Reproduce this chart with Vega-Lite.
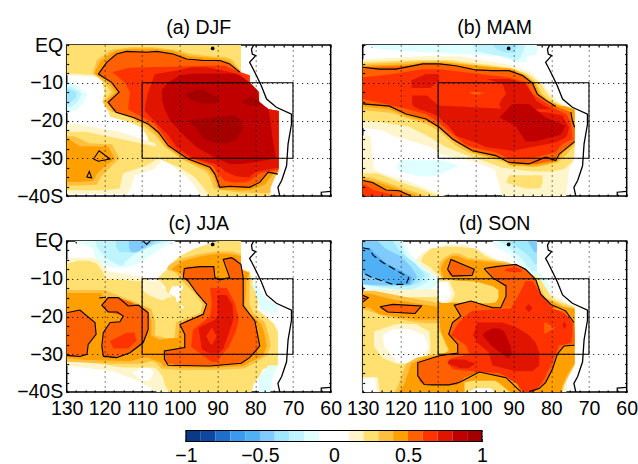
{"$schema":"https://vega.github.io/schema/vega-lite/v6.json","padding":{"left":15.7,"top":16,"right":0,"bottom":0},"background":"white","config":{"view":{"stroke":"black","strokeWidth":1.5},"font":"Liberation Sans","axis":{"domain":false,"tickColor":"black","tickWidth":1.2,"tickSize":-2,"gridColor":"black","gridDash":[1,4],"gridWidth":1,"labelFont":"Liberation Sans","labelFontSize":19.5,"labelColor":"black","title":null,"labelOverlap":false,"labelBound":false,"labelFlush":false},"title":{"font":"Liberation Sans","fontSize":19.5,"fontWeight":"normal","color":"black"}},
"datasets":{
"DJF":[
{"b":1,"v":0.15,"lat":0,"w":130,"e":83.8},{"b":1,"v":0.15,"lat":-8,"w":130,"e":83.8},{"b":1,"v":0.15,"lat":-8.7,"w":120.5,"e":81.5},{"b":1,"v":0.15,"lat":-10,"w":119,"e":81.5},{"b":1,"v":0.15,"lat":-12.5,"w":118.5,"e":79},{"b":1,"v":0.15,"lat":-15,"w":119,"e":79},{"b":1,"v":0.15,"lat":-17,"w":118,"e":76.5},{"b":1,"v":0.15,"lat":-17.5,"w":117.5,"e":73.8},{"b":1,"v":0.15,"lat":-19,"w":116.5,"e":73.8},{"b":1,"v":0.15,"lat":-20,"w":112,"e":73.8},{"b":1,"v":0.15,"lat":-22,"w":108.5,"e":73.8},{"b":1,"v":0.15,"lat":-24.5,"w":107,"e":73.8},{"b":1,"v":0.15,"lat":-30,"w":105,"e":73.8},{"b":1,"v":0.15,"lat":-32,"w":102,"e":73.8},{"b":1,"v":0.15,"lat":-35,"w":98,"e":74.8},{"b":1,"v":0.15,"lat":-37.5,"w":96,"e":76},{"b":1,"v":0.15,"lat":-40,"w":94.5,"e":76},
{"b":2,"v":0.25,"lat":0,"w":130,"e":83.8},{"b":2,"v":0.25,"lat":-7.5,"w":130,"e":83.8},{"b":2,"v":0.25,"lat":-8,"w":122,"e":81.5},{"b":2,"v":0.25,"lat":-10,"w":120.5,"e":81.5},{"b":2,"v":0.25,"lat":-12.5,"w":120,"e":79},{"b":2,"v":0.25,"lat":-15,"w":120.5,"e":79},{"b":2,"v":0.25,"lat":-17,"w":119.5,"e":76.5},{"b":2,"v":0.25,"lat":-17.5,"w":119,"e":73.8},{"b":2,"v":0.25,"lat":-19,"w":118.5,"e":73.8},{"b":2,"v":0.25,"lat":-20.5,"w":113,"e":73.8},{"b":2,"v":0.25,"lat":-22,"w":110,"e":73.8},{"b":2,"v":0.25,"lat":-24.5,"w":108.5,"e":73.8},{"b":2,"v":0.25,"lat":-27,"w":108,"e":73.8},{"b":2,"v":0.25,"lat":-30,"w":106,"e":73.8},{"b":2,"v":0.25,"lat":-32.5,"w":100,"e":73.8},{"b":2,"v":0.25,"lat":-35,"w":96,"e":74.8},{"b":2,"v":0.25,"lat":-37.5,"w":94,"e":76},{"b":2,"v":0.25,"lat":-40,"w":92,"e":76},
{"b":3,"v":0.15,"lat":-21,"w":130,"e":127},{"b":3,"v":0.15,"lat":-23,"w":130,"e":116},{"b":3,"v":0.15,"lat":-26,"w":130,"e":106.5},{"b":3,"v":0.15,"lat":-31,"w":130,"e":105},{"b":3,"v":0.15,"lat":-33,"w":130,"e":107},{"b":3,"v":0.15,"lat":-34.5,"w":130,"e":112},{"b":3,"v":0.15,"lat":-38,"w":130,"e":113},{"b":3,"v":0.15,"lat":-39.5,"w":130,"e":114},
{"b":4,"v":0.25,"lat":-23,"w":130,"e":125},{"b":4,"v":0.25,"lat":-25,"w":130,"e":115},{"b":4,"v":0.25,"lat":-27,"w":130,"e":106},{"b":4,"v":0.25,"lat":-30,"w":130,"e":105.5},{"b":4,"v":0.25,"lat":-32,"w":130,"e":109},{"b":4,"v":0.25,"lat":-34,"w":130,"e":115},{"b":4,"v":0.25,"lat":-38,"w":130,"e":116},{"b":4,"v":0.25,"lat":-38.5,"w":130,"e":120},
{"b":5,"v":0.35,"lat":-24.2,"w":130,"e":128},{"b":5,"v":0.35,"lat":-26,"w":130,"e":124},{"b":5,"v":0.35,"lat":-26.3,"w":130,"e":118},{"b":5,"v":0.35,"lat":-30,"w":130,"e":116},{"b":5,"v":0.35,"lat":-32.5,"w":130,"e":118.5},{"b":5,"v":0.35,"lat":-35,"w":130,"e":121},{"b":5,"v":0.35,"lat":-37,"w":130,"e":122},{"b":5,"v":0.35,"lat":-37.3,"w":130,"e":128},
{"b":6,"v":0.45,"lat":-24.9,"w":130,"e":129.5},{"b":6,"v":0.45,"lat":-26.8,"w":130,"e":126.5},{"b":6,"v":0.45,"lat":-26.9,"w":130,"e":119},{"b":6,"v":0.45,"lat":-30.2,"w":130,"e":117.2},{"b":6,"v":0.45,"lat":-32,"w":130,"e":119.8},{"b":6,"v":0.45,"lat":-34.2,"w":130,"e":122},{"b":6,"v":0.45,"lat":-36,"w":130,"e":123},{"b":6,"v":0.45,"lat":-36.3,"w":130,"e":127},
{"b":7,"v":-0.15,"lat":-10,"w":130,"e":129},{"b":7,"v":-0.15,"lat":-11,"w":130,"e":127},{"b":7,"v":-0.15,"lat":-13,"w":130,"e":124.5},{"b":7,"v":-0.15,"lat":-15,"w":130,"e":125.5},{"b":7,"v":-0.15,"lat":-17,"w":130,"e":127},{"b":7,"v":-0.15,"lat":-18,"w":130,"e":129.5},
{"b":8,"v":-0.25,"lat":-11,"w":130,"e":129},{"b":8,"v":-0.25,"lat":-12,"w":130,"e":127},{"b":8,"v":-0.25,"lat":-13,"w":130,"e":126},{"b":8,"v":-0.25,"lat":-15,"w":130,"e":127},{"b":8,"v":-0.25,"lat":-16.5,"w":130,"e":129},
{"b":9,"v":-0.35,"lat":-11.5,"w":130,"e":129.5},{"b":9,"v":-0.35,"lat":-12.5,"w":130,"e":127.5},{"b":9,"v":-0.35,"lat":-14,"w":130,"e":127.5},{"b":9,"v":-0.35,"lat":-15.5,"w":130,"e":129.5},
{"b":10,"v":0.35,"lat":-0.6,"w":113,"e":107},{"b":10,"v":0.35,"lat":-1.2,"w":118,"e":102},{"b":10,"v":0.35,"lat":-2.4,"w":120,"e":97},{"b":10,"v":0.35,"lat":-3,"w":120.5,"e":92},{"b":10,"v":0.35,"lat":-3.2,"w":121,"e":88},{"b":10,"v":0.35,"lat":-4,"w":122,"e":86},{"b":10,"v":0.35,"lat":-7,"w":123,"e":83.8},{"b":10,"v":0.35,"lat":-7.7,"w":123,"e":83.8},{"b":10,"v":0.35,"lat":-8,"w":122.5,"e":81.5},{"b":10,"v":0.35,"lat":-9.9,"w":120,"e":81.5},{"b":10,"v":0.35,"lat":-12.5,"w":118,"e":79},{"b":10,"v":0.35,"lat":-15,"w":120.5,"e":79},{"b":10,"v":0.35,"lat":-17,"w":119,"e":76.5},{"b":10,"v":0.35,"lat":-17.5,"w":118.5,"e":73.8},{"b":10,"v":0.35,"lat":-19,"w":114,"e":73.8},{"b":10,"v":0.35,"lat":-21,"w":110,"e":73.8},{"b":10,"v":0.35,"lat":-24,"w":106.5,"e":73.8},{"b":10,"v":0.35,"lat":-27,"w":104,"e":73.8},{"b":10,"v":0.35,"lat":-30.5,"w":99,"e":73.8},{"b":10,"v":0.35,"lat":-33.5,"w":93,"e":73.8},{"b":10,"v":0.35,"lat":-35,"w":92,"e":74.8},{"b":10,"v":0.35,"lat":-38,"w":91,"e":76},{"b":10,"v":0.35,"lat":-39,"w":85,"e":76},{"b":10,"v":0.35,"lat":-39.2,"w":80,"e":77},
{"b":11,"v":0.45,"lat":-1,"w":113,"e":107},{"b":11,"v":0.45,"lat":-1.5,"w":117,"e":102},{"b":11,"v":0.45,"lat":-3,"w":119.5,"e":97.5},{"b":11,"v":0.45,"lat":-3.5,"w":120,"e":90},{"b":11,"v":0.45,"lat":-4.2,"w":121,"e":87},{"b":11,"v":0.45,"lat":-7,"w":122.5,"e":83.8},{"b":11,"v":0.45,"lat":-7.7,"w":122.5,"e":83.8},{"b":11,"v":0.45,"lat":-8,"w":122,"e":81.5},{"b":11,"v":0.45,"lat":-9.9,"w":119,"e":81.5},{"b":11,"v":0.45,"lat":-12.5,"w":117,"e":79},{"b":11,"v":0.45,"lat":-15,"w":119.8,"e":79},{"b":11,"v":0.45,"lat":-17,"w":118,"e":76.5},{"b":11,"v":0.45,"lat":-17.5,"w":118,"e":73.8},{"b":11,"v":0.45,"lat":-19,"w":113,"e":73.8},{"b":11,"v":0.45,"lat":-21,"w":109,"e":73.8},{"b":11,"v":0.45,"lat":-23.5,"w":106,"e":73.8},{"b":11,"v":0.45,"lat":-27,"w":103.5,"e":73.8},{"b":11,"v":0.45,"lat":-30.5,"w":98.3,"e":73.8},{"b":11,"v":0.45,"lat":-33,"w":92.5,"e":73.8},{"b":11,"v":0.45,"lat":-34.5,"w":91.3,"e":75.5},{"b":11,"v":0.45,"lat":-37,"w":90.2,"e":77.5},{"b":11,"v":0.45,"lat":-38.3,"w":89.5,"e":81},{"b":11,"v":0.45,"lat":-38.5,"w":84,"e":83},
{"b":12,"v":0.55,"lat":-1.7,"w":114.5,"e":106.5},{"b":12,"v":0.55,"lat":-2.4,"w":116.8,"e":101.8},{"b":12,"v":0.55,"lat":-3.7,"w":118.3,"e":98.2},{"b":12,"v":0.55,"lat":-4.1,"w":118.8,"e":89.4},{"b":12,"v":0.55,"lat":-5,"w":119.8,"e":86.8},{"b":12,"v":0.55,"lat":-7.2,"w":121.4,"e":84},{"b":12,"v":0.55,"lat":-7.7,"w":121.6,"e":83.8},{"b":12,"v":0.55,"lat":-8,"w":121.2,"e":81.5},{"b":12,"v":0.55,"lat":-9.9,"w":118.1,"e":81.5},{"b":12,"v":0.55,"lat":-12.5,"w":116.1,"e":79},{"b":12,"v":0.55,"lat":-15.2,"w":119,"e":79},{"b":12,"v":0.55,"lat":-17,"w":117.5,"e":76.5},{"b":12,"v":0.55,"lat":-17.5,"w":117.3,"e":73.8},{"b":12,"v":0.55,"lat":-19.2,"w":112.3,"e":73.8},{"b":12,"v":0.55,"lat":-20.9,"w":108.4,"e":73.8},{"b":12,"v":0.55,"lat":-23.1,"w":105.7,"e":73.8},{"b":12,"v":0.55,"lat":-26.7,"w":103,"e":73.8},{"b":12,"v":0.55,"lat":-30.2,"w":97.8,"e":73.8},{"b":12,"v":0.55,"lat":-32.4,"w":92,"e":73.8},{"b":12,"v":0.55,"lat":-33.7,"w":91,"e":74},{"b":12,"v":0.55,"lat":-34.2,"w":90.7,"e":77},{"b":12,"v":0.55,"lat":-36.4,"w":89.8,"e":78.8},{"b":12,"v":0.55,"lat":-37.7,"w":89.4,"e":81.5},{"b":12,"v":0.55,"lat":-37.8,"w":88,"e":83},
{"b":14,"v":0.65,"lat":-5.5,"w":92,"e":88},{"b":14,"v":0.65,"lat":-6,"w":113.5,"e":87},{"b":14,"v":0.65,"lat":-7.2,"w":118,"e":83.8},{"b":14,"v":0.65,"lat":-8,"w":116.8,"e":81.5},{"b":14,"v":0.65,"lat":-10,"w":114.6,"e":81.5},{"b":14,"v":0.65,"lat":-12.5,"w":113.2,"e":79},{"b":14,"v":0.65,"lat":-15,"w":113.5,"e":79},{"b":14,"v":0.65,"lat":-17,"w":113.7,"e":76.5},{"b":14,"v":0.65,"lat":-17.5,"w":113,"e":73.8},{"b":14,"v":0.65,"lat":-19,"w":110.1,"e":73.8},{"b":14,"v":0.65,"lat":-21,"w":106.6,"e":73.8},{"b":14,"v":0.65,"lat":-24,"w":104.4,"e":73.8},{"b":14,"v":0.65,"lat":-27,"w":102.2,"e":73.8},{"b":14,"v":0.65,"lat":-30,"w":97.3,"e":73.8},{"b":14,"v":0.65,"lat":-32,"w":91.2,"e":73.8},{"b":14,"v":0.65,"lat":-33,"w":90.5,"e":73.8},{"b":14,"v":0.65,"lat":-34,"w":90,"e":78.8},{"b":14,"v":0.65,"lat":-36,"w":88,"e":81.5},{"b":14,"v":0.65,"lat":-36.4,"w":86,"e":83},
{"b":15,"v":0.75,"lat":-5.9,"w":97,"e":93},{"b":15,"v":0.75,"lat":-6.6,"w":100,"e":89},{"b":15,"v":0.75,"lat":-7.7,"w":106.6,"e":84.5},{"b":15,"v":0.75,"lat":-10,"w":107.5,"e":81.5},{"b":15,"v":0.75,"lat":-12.5,"w":108.4,"e":79},{"b":15,"v":0.75,"lat":-15,"w":109,"e":79},{"b":15,"v":0.75,"lat":-17,"w":109.3,"e":76.5},{"b":15,"v":0.75,"lat":-17.5,"w":109.3,"e":73.8},{"b":15,"v":0.75,"lat":-21,"w":106,"e":73.8},{"b":15,"v":0.75,"lat":-24,"w":103,"e":73.8},{"b":15,"v":0.75,"lat":-27,"w":100.9,"e":73.8},{"b":15,"v":0.75,"lat":-30,"w":96.5,"e":73.8},{"b":15,"v":0.75,"lat":-31.5,"w":90.7,"e":73.8},{"b":15,"v":0.75,"lat":-32.5,"w":89,"e":73.8},{"b":15,"v":0.75,"lat":-33.5,"w":88,"e":79.7},{"b":15,"v":0.75,"lat":-34.8,"w":85,"e":81.3},{"b":15,"v":0.75,"lat":-35,"w":83,"e":81.5},
{"b":16,"v":0.85,"lat":-7.6,"w":96.5,"e":85.9},{"b":16,"v":0.85,"lat":-8,"w":100,"e":84},{"b":16,"v":0.85,"lat":-10,"w":103.1,"e":81.5},{"b":16,"v":0.85,"lat":-12,"w":104.8,"e":79.5},{"b":16,"v":0.85,"lat":-15,"w":104.6,"e":79},{"b":16,"v":0.85,"lat":-17,"w":104,"e":76.5},{"b":16,"v":0.85,"lat":-20,"w":102.6,"e":76},{"b":16,"v":0.85,"lat":-24,"w":98.9,"e":75.5},{"b":16,"v":0.85,"lat":-27,"w":95.6,"e":75},{"b":16,"v":0.85,"lat":-30,"w":90.3,"e":74.5},{"b":16,"v":0.85,"lat":-31,"w":88,"e":80},{"b":16,"v":0.85,"lat":-31.5,"w":86.8,"e":84},
{"b":17,"v":0.95,"lat":-11.8,"w":95,"e":94},{"b":17,"v":0.95,"lat":-13,"w":98.7,"e":91.6},{"b":17,"v":0.95,"lat":-14.3,"w":97.3,"e":89.4},{"b":17,"v":0.95,"lat":-15.5,"w":94.3,"e":90.3},
{"b":18,"v":0.95,"lat":-13.7,"w":81.2,"e":80.8},{"b":18,"v":0.95,"lat":-15,"w":83.7,"e":78.8},{"b":18,"v":0.95,"lat":-16,"w":81.9,"e":78.8},
{"b":19,"v":0.95,"lat":-18.7,"w":86.8,"e":85.4},{"b":19,"v":0.95,"lat":-20,"w":97.8,"e":83.7},{"b":19,"v":0.95,"lat":-22,"w":95.6,"e":83.2},{"b":19,"v":0.95,"lat":-25,"w":93.4,"e":85},{"b":19,"v":0.95,"lat":-26,"w":90.3,"e":87.6}
],
"MAM":[
{"b":1,"v":-0.15,"lat":0,"w":130,"e":83.8},{"b":1,"v":-0.15,"lat":-1.2,"w":125,"e":83.8},{"b":1,"v":-0.15,"lat":-2,"w":112.3,"e":83.8},{"b":1,"v":-0.15,"lat":-2.5,"w":100.9,"e":83.8},{"b":1,"v":-0.15,"lat":-3,"w":93.8,"e":86.3},{"b":1,"v":-0.15,"lat":-4.5,"w":89.4,"e":86.8},
{"b":2,"v":-0.25,"lat":0,"w":100.9,"e":87},{"b":2,"v":-0.25,"lat":-1.5,"w":100,"e":87.2},{"b":2,"v":-0.25,"lat":-2.4,"w":96.5,"e":87.8},{"b":2,"v":-0.25,"lat":-3.3,"w":91.2,"e":88.1},{"b":2,"v":-0.25,"lat":-4,"w":90,"e":89},
{"b":3,"v":-0.35,"lat":0,"w":95.6,"e":89},{"b":3,"v":-0.35,"lat":-1.2,"w":94.3,"e":89.4},{"b":3,"v":-0.35,"lat":-2,"w":92,"e":90},
{"b":4,"v":-0.15,"lat":-30.5,"w":120,"e":109},{"b":4,"v":-0.15,"lat":-32,"w":121,"e":104.4},{"b":4,"v":-0.15,"lat":-33.5,"w":120.3,"e":108},{"b":4,"v":-0.15,"lat":-34.8,"w":115,"e":110.6},
{"b":5,"v":0.15,"lat":-3,"w":114,"e":104},{"b":5,"v":0.15,"lat":-3.8,"w":130,"e":100},{"b":5,"v":0.15,"lat":-5,"w":130,"e":92},{"b":5,"v":0.15,"lat":-7,"w":130,"e":85.8},{"b":5,"v":0.15,"lat":-10,"w":130,"e":82.5},{"b":5,"v":0.15,"lat":-13,"w":130,"e":80},{"b":5,"v":0.15,"lat":-15,"w":130,"e":78},{"b":5,"v":0.15,"lat":-16.5,"w":130,"e":75},{"b":5,"v":0.15,"lat":-17.5,"w":130,"e":73.8},{"b":5,"v":0.15,"lat":-22,"w":130,"e":73.8},{"b":5,"v":0.15,"lat":-22.5,"w":125,"e":73.8},{"b":5,"v":0.15,"lat":-24,"w":122,"e":73.8},{"b":5,"v":0.15,"lat":-27,"w":112,"e":73.8},{"b":5,"v":0.15,"lat":-29,"w":109,"e":74},{"b":5,"v":0.15,"lat":-31,"w":100,"e":74},{"b":5,"v":0.15,"lat":-33,"w":95,"e":75.3},{"b":5,"v":0.15,"lat":-40,"w":93,"e":76},
{"b":6,"v":0.15,"lat":-24,"w":130,"e":128},{"b":6,"v":0.15,"lat":-33,"w":130,"e":127},{"b":6,"v":0.15,"lat":-34,"w":130,"e":125},{"b":6,"v":0.15,"lat":-36,"w":130,"e":118},{"b":6,"v":0.15,"lat":-38,"w":130,"e":113},{"b":6,"v":0.15,"lat":-40,"w":130,"e":108},
{"b":7,"v":0.25,"lat":-34,"w":130,"e":126},{"b":7,"v":0.25,"lat":-36,"w":130,"e":121},{"b":7,"v":0.25,"lat":-38,"w":130,"e":115},{"b":7,"v":0.25,"lat":-40,"w":130,"e":110},
{"b":8,"v":0.35,"lat":-35,"w":130,"e":128},{"b":8,"v":0.35,"lat":-37,"w":130,"e":122},{"b":8,"v":0.35,"lat":-39,"w":130,"e":116},{"b":8,"v":0.35,"lat":-40,"w":130,"e":113},
{"b":9,"v":0.45,"lat":-35.5,"w":130,"e":129},{"b":9,"v":0.45,"lat":-37,"w":130,"e":124},{"b":9,"v":0.45,"lat":-39,"w":130,"e":118},{"b":9,"v":0.45,"lat":-40,"w":130,"e":115},
{"b":10,"v":0.55,"lat":-35.9,"w":130,"e":129.5},{"b":10,"v":0.55,"lat":-36.4,"w":130,"e":127.4},{"b":10,"v":0.55,"lat":-38.4,"w":130,"e":123.8},{"b":10,"v":0.55,"lat":-38.6,"w":130,"e":120.3},{"b":10,"v":0.55,"lat":-40,"w":130,"e":117.2},
{"b":11,"v":0.65,"lat":-37,"w":130,"e":129.5},{"b":11,"v":0.65,"lat":-38.5,"w":130,"e":127},{"b":11,"v":0.65,"lat":-40,"w":130,"e":120.5},
{"b":12,"v":0.25,"lat":-4,"w":116,"e":106},{"b":12,"v":0.25,"lat":-4.5,"w":130,"e":103},{"b":12,"v":0.25,"lat":-5.3,"w":130,"e":96},{"b":12,"v":0.25,"lat":-6,"w":130,"e":91},{"b":12,"v":0.25,"lat":-7.5,"w":130,"e":86.5},{"b":12,"v":0.25,"lat":-10,"w":130,"e":83},{"b":12,"v":0.25,"lat":-13,"w":130,"e":81},{"b":12,"v":0.25,"lat":-15,"w":130,"e":79},{"b":12,"v":0.25,"lat":-16.5,"w":130,"e":76},{"b":12,"v":0.25,"lat":-17.5,"w":130,"e":73.8},{"b":12,"v":0.25,"lat":-20,"w":130,"e":73.8},{"b":12,"v":0.25,"lat":-20.5,"w":125,"e":73.8},{"b":12,"v":0.25,"lat":-21.5,"w":118,"e":73.8},{"b":12,"v":0.25,"lat":-24,"w":113,"e":73.8},{"b":12,"v":0.25,"lat":-27,"w":108,"e":73.8},{"b":12,"v":0.25,"lat":-29,"w":103,"e":73.8},{"b":12,"v":0.25,"lat":-31,"w":97,"e":74.5},{"b":12,"v":0.25,"lat":-32.5,"w":92.9,"e":76.2},{"b":12,"v":0.25,"lat":-33,"w":89.4,"e":77},{"b":12,"v":0.25,"lat":-33.5,"w":85,"e":80},
{"b":13,"v":0.25,"lat":-34.5,"w":91.2,"e":82.3},{"b":13,"v":0.25,"lat":-36.5,"w":92,"e":82.3},{"b":13,"v":0.25,"lat":-38,"w":86.8,"e":83},
{"b":14,"v":0.35,"lat":-4.3,"w":114,"e":108},{"b":14,"v":0.35,"lat":-5,"w":130,"e":102},{"b":14,"v":0.35,"lat":-5.9,"w":130,"e":95},{"b":14,"v":0.35,"lat":-6.3,"w":130,"e":90},{"b":14,"v":0.35,"lat":-8,"w":130,"e":86.5},{"b":14,"v":0.35,"lat":-10,"w":130,"e":84},{"b":14,"v":0.35,"lat":-13,"w":130,"e":82.5},{"b":14,"v":0.35,"lat":-15,"w":130,"e":80},{"b":14,"v":0.35,"lat":-16.3,"w":130,"e":77},{"b":14,"v":0.35,"lat":-17.2,"w":130,"e":73.8},{"b":14,"v":0.35,"lat":-18,"w":122,"e":73.8},{"b":14,"v":0.35,"lat":-19.5,"w":118,"e":73.8},{"b":14,"v":0.35,"lat":-21,"w":113,"e":73.8},{"b":14,"v":0.35,"lat":-23,"w":109.5,"e":73.8},{"b":14,"v":0.35,"lat":-26.5,"w":105.5,"e":73.8},{"b":14,"v":0.35,"lat":-28.5,"w":102,"e":75.5},{"b":14,"v":0.35,"lat":-30,"w":96,"e":77},{"b":14,"v":0.35,"lat":-31,"w":92.5,"e":78},{"b":14,"v":0.35,"lat":-32,"w":91,"e":82},{"b":14,"v":0.35,"lat":-32.3,"w":85,"e":84},
{"b":15,"v":0.45,"lat":-4.6,"w":114,"e":109},{"b":15,"v":0.45,"lat":-5.1,"w":118,"e":104},{"b":15,"v":0.45,"lat":-5.5,"w":130,"e":100},{"b":15,"v":0.45,"lat":-6.2,"w":130,"e":91},{"b":15,"v":0.45,"lat":-8,"w":130,"e":87},{"b":15,"v":0.45,"lat":-10,"w":130,"e":84.5},{"b":15,"v":0.45,"lat":-13,"w":130,"e":83},{"b":15,"v":0.45,"lat":-14.6,"w":130,"e":81},{"b":15,"v":0.45,"lat":-16,"w":130,"e":78},{"b":15,"v":0.45,"lat":-16.3,"w":130,"e":76},{"b":15,"v":0.45,"lat":-17,"w":123,"e":73.8},{"b":15,"v":0.45,"lat":-19,"w":118,"e":73.8},{"b":15,"v":0.45,"lat":-20.3,"w":113,"e":73.8},{"b":15,"v":0.45,"lat":-22.3,"w":109.3,"e":73.8},{"b":15,"v":0.45,"lat":-25.5,"w":105.7,"e":73.8},{"b":15,"v":0.45,"lat":-26,"w":105,"e":73.8},{"b":15,"v":0.45,"lat":-28.6,"w":100.5,"e":77},{"b":15,"v":0.45,"lat":-30,"w":94.5,"e":78},{"b":15,"v":0.45,"lat":-31,"w":91.5,"e":78.5},{"b":15,"v":0.45,"lat":-31.8,"w":91,"e":83},{"b":15,"v":0.45,"lat":-32,"w":86,"e":84.5},
{"b":16,"v":0.55,"lat":-5,"w":114,"e":109.7},{"b":16,"v":0.55,"lat":-5.5,"w":117,"e":105.3},{"b":16,"v":0.55,"lat":-5.9,"w":130,"e":102},{"b":16,"v":0.55,"lat":-6.6,"w":130,"e":100},{"b":16,"v":0.55,"lat":-6.8,"w":130,"e":91.2},{"b":16,"v":0.55,"lat":-8.1,"w":130,"e":87.6},{"b":16,"v":0.55,"lat":-10.1,"w":130,"e":85},{"b":16,"v":0.55,"lat":-13,"w":130,"e":83.7},{"b":16,"v":0.55,"lat":-14.6,"w":130,"e":81.5},{"b":16,"v":0.55,"lat":-15.6,"w":130,"e":80.2},{"b":16,"v":0.55,"lat":-16.2,"w":122.9,"e":78.8},{"b":16,"v":0.55,"lat":-17.8,"w":119.5,"e":74.8},{"b":16,"v":0.55,"lat":-19.6,"w":113.2,"e":74.4},{"b":16,"v":0.55,"lat":-21.8,"w":109.7,"e":73.8},{"b":16,"v":0.55,"lat":-24.9,"w":106.2,"e":73.8},{"b":16,"v":0.55,"lat":-25.6,"w":105.4,"e":73.8},{"b":16,"v":0.55,"lat":-28,"w":100.9,"e":77.2},{"b":16,"v":0.55,"lat":-29.3,"w":94.7,"e":78.5},{"b":16,"v":0.55,"lat":-30.6,"w":91.5,"e":78.8},{"b":16,"v":0.55,"lat":-31.1,"w":91.2,"e":82},{"b":16,"v":0.55,"lat":-31.5,"w":85.9,"e":84},
{"b":17,"v":0.65,"lat":-6.4,"w":114.1,"e":109.7},{"b":17,"v":0.65,"lat":-7.7,"w":122,"e":99},{"b":17,"v":0.65,"lat":-8.6,"w":130,"e":91.2},{"b":17,"v":0.65,"lat":-9.9,"w":130,"e":86.7},{"b":17,"v":0.65,"lat":-13,"w":130,"e":85},{"b":17,"v":0.65,"lat":-14.3,"w":130,"e":83},{"b":17,"v":0.65,"lat":-15.6,"w":123.8,"e":81},{"b":17,"v":0.65,"lat":-16.9,"w":118.5,"e":79},{"b":17,"v":0.65,"lat":-17.8,"w":115,"e":77},{"b":17,"v":0.65,"lat":-18.3,"w":113.2,"e":76},{"b":17,"v":0.65,"lat":-20.5,"w":109.7,"e":74.9},{"b":17,"v":0.65,"lat":-23.6,"w":106.2,"e":74.5},{"b":17,"v":0.65,"lat":-24.9,"w":104.5,"e":74.4},{"b":17,"v":0.65,"lat":-26.2,"w":103,"e":77},{"b":17,"v":0.65,"lat":-27.1,"w":100.9,"e":77.8},{"b":17,"v":0.65,"lat":-28.4,"w":94.7,"e":78.8},{"b":17,"v":0.65,"lat":-30.2,"w":91.2,"e":85.9},
{"b":18,"v":0.75,"lat":-7.7,"w":113.2,"e":110.1},{"b":18,"v":0.75,"lat":-9.4,"w":117.2,"e":109.7},{"b":18,"v":0.75,"lat":-11.4,"w":117,"e":112},
{"b":19,"v":0.75,"lat":-9,"w":97.3,"e":91.2},{"b":19,"v":0.75,"lat":-10.3,"w":92.9,"e":86.8},{"b":19,"v":0.75,"lat":-13,"w":92,"e":85},{"b":19,"v":0.75,"lat":-14.7,"w":93.4,"e":84},{"b":19,"v":0.75,"lat":-16,"w":93.8,"e":82},{"b":19,"v":0.75,"lat":-17,"w":93,"e":80},
{"b":20,"v":0.75,"lat":-13.4,"w":116.8,"e":113},{"b":20,"v":0.75,"lat":-14,"w":117,"e":112.3},{"b":20,"v":0.75,"lat":-16,"w":116.8,"e":109.9},{"b":20,"v":0.75,"lat":-16.5,"w":116,"e":100.9},{"b":20,"v":0.75,"lat":-17,"w":115,"e":90},{"b":20,"v":0.75,"lat":-18,"w":112,"e":80},{"b":20,"v":0.75,"lat":-18.7,"w":110.5,"e":77},{"b":20,"v":0.75,"lat":-19.2,"w":109.7,"e":76.8},{"b":20,"v":0.75,"lat":-21.8,"w":107,"e":75.3},{"b":20,"v":0.75,"lat":-24,"w":105.3,"e":75.8},{"b":20,"v":0.75,"lat":-24.5,"w":104,"e":76.2},{"b":20,"v":0.75,"lat":-25.8,"w":100,"e":78.8},{"b":20,"v":0.75,"lat":-27,"w":97.3,"e":85},{"b":20,"v":0.75,"lat":-28,"w":90.5,"e":90},
{"b":21,"v":0.85,"lat":-15.6,"w":90.3,"e":85.9},{"b":21,"v":0.85,"lat":-19.2,"w":93.8,"e":81.5},{"b":21,"v":0.85,"lat":-21.4,"w":89.4,"e":76.2},{"b":21,"v":0.85,"lat":-23.8,"w":88,"e":77.5},{"b":21,"v":0.85,"lat":-25.5,"w":86.8,"e":84},
{"b":22,"v":0.55,"lat":-12.4,"w":101,"e":100},{"b":22,"v":0.55,"lat":-12.7,"w":101.7,"e":97.8},{"b":22,"v":0.55,"lat":-13.1,"w":100.5,"e":99}
],
"JJA":[
{"b":1,"v":-0.15,"lat":0,"w":128,"e":101},{"b":1,"v":-0.15,"lat":-2,"w":123,"e":105},{"b":1,"v":-0.15,"lat":-4,"w":122.5,"e":108},{"b":1,"v":-0.15,"lat":-6,"w":122,"e":111},{"b":1,"v":-0.15,"lat":-7,"w":118,"e":114},
{"b":2,"v":-0.25,"lat":0,"w":122.5,"e":102},{"b":2,"v":-0.25,"lat":-1.5,"w":122,"e":109},{"b":2,"v":-0.25,"lat":-3.5,"w":120.5,"e":112},{"b":2,"v":-0.25,"lat":-5.5,"w":118,"e":114.5},{"b":2,"v":-0.25,"lat":-6.5,"w":116,"e":115},
{"b":3,"v":-0.35,"lat":0,"w":117,"e":105},{"b":3,"v":-0.35,"lat":-1.5,"w":117,"e":108},{"b":3,"v":-0.35,"lat":-3,"w":116,"e":111},
{"b":4,"v":-0.45,"lat":0,"w":113.5,"e":106.6},{"b":4,"v":-0.45,"lat":-1.5,"w":113.5,"e":109},{"b":4,"v":-0.45,"lat":-3,"w":113,"e":111.5},
{"b":5,"v":0.15,"lat":-4.5,"w":129,"e":123},{"b":5,"v":0.15,"lat":-5,"w":130,"e":121.5},{"b":5,"v":0.15,"lat":-8,"w":130,"e":119},{"b":5,"v":0.15,"lat":-9.5,"w":130,"e":110},{"b":5,"v":0.15,"lat":-13,"w":130,"e":103},{"b":5,"v":0.15,"lat":-31,"w":130,"e":103},{"b":5,"v":0.15,"lat":-33,"w":130,"e":103},{"b":5,"v":0.15,"lat":-34.5,"w":118,"e":103},{"b":5,"v":0.15,"lat":-37,"w":111,"e":103},{"b":5,"v":0.15,"lat":-40,"w":106,"e":103},
{"b":6,"v":0.05,"lat":-33.5,"w":110,"e":108},{"b":6,"v":0.05,"lat":-35,"w":112.5,"e":107},{"b":6,"v":0.05,"lat":-37,"w":110,"e":108},
{"b":7,"v":0.25,"lat":-5.2,"w":127,"e":124},{"b":7,"v":0.25,"lat":-6,"w":130,"e":122},{"b":7,"v":0.25,"lat":-8,"w":130,"e":120.5},{"b":7,"v":0.25,"lat":-10,"w":130,"e":119.5},{"b":7,"v":0.25,"lat":-10.7,"w":130,"e":110},{"b":7,"v":0.25,"lat":-13,"w":130,"e":110},{"b":7,"v":0.25,"lat":-14.5,"w":130,"e":108},{"b":7,"v":0.25,"lat":-16,"w":130,"e":104},{"b":7,"v":0.25,"lat":-18,"w":130,"e":100},{"b":7,"v":0.25,"lat":-30,"w":130,"e":100},{"b":7,"v":0.25,"lat":-31.5,"w":130,"e":105},{"b":7,"v":0.25,"lat":-32.5,"w":122,"e":105},{"b":7,"v":0.25,"lat":-33.5,"w":115,"e":107},
{"b":8,"v":0.25,"lat":0,"w":90,"e":83.8},{"b":8,"v":0.25,"lat":-2,"w":96,"e":83.8},{"b":8,"v":0.25,"lat":-4,"w":100,"e":83.8},{"b":8,"v":0.25,"lat":-6,"w":102.5,"e":83.8},{"b":8,"v":0.25,"lat":-7.5,"w":103,"e":83.8},{"b":8,"v":0.25,"lat":-8,"w":104,"e":81.5},{"b":8,"v":0.25,"lat":-10,"w":106,"e":81},{"b":8,"v":0.25,"lat":-12,"w":104,"e":80},{"b":8,"v":0.25,"lat":-15,"w":103,"e":79},{"b":8,"v":0.25,"lat":-18,"w":110,"e":79.5},{"b":8,"v":0.25,"lat":-22,"w":110,"e":75},{"b":8,"v":0.25,"lat":-24,"w":110,"e":74},{"b":8,"v":0.25,"lat":-31,"w":110,"e":74},{"b":8,"v":0.25,"lat":-33,"w":108,"e":74},{"b":8,"v":0.25,"lat":-34,"w":106,"e":78},{"b":8,"v":0.25,"lat":-36,"w":104.5,"e":79},{"b":8,"v":0.25,"lat":-38,"w":104,"e":80.5},{"b":8,"v":0.25,"lat":-40,"w":103,"e":81},
{"b":9,"v":0.05,"lat":-12,"w":102,"e":99},{"b":9,"v":0.05,"lat":-14,"w":103,"e":100},{"b":9,"v":0.05,"lat":-15,"w":101,"e":100},{"b":9,"v":0.05,"lat":-16,"w":101,"e":100},
{"b":10,"v":0.05,"lat":-17,"w":100,"e":99.5},{"b":10,"v":0.05,"lat":-17.8,"w":99.5,"e":98.7},
{"b":11,"v":0.15,"lat":-10.5,"w":110,"e":105},{"b":11,"v":0.15,"lat":-13,"w":110,"e":104},{"b":11,"v":0.15,"lat":-15,"w":104,"e":102},
{"b":12,"v":-0.15,"lat":-11,"w":81,"e":80},{"b":12,"v":-0.15,"lat":-15,"w":79.5,"e":77.5},{"b":12,"v":-0.15,"lat":-17,"w":79,"e":74.2},{"b":12,"v":-0.15,"lat":-18,"w":79,"e":74},{"b":12,"v":-0.15,"lat":-19,"w":76,"e":74},
{"b":13,"v":-0.15,"lat":-33,"w":76.5,"e":74},{"b":13,"v":-0.15,"lat":-36,"w":79,"e":75.5},{"b":13,"v":-0.15,"lat":-40,"w":79,"e":76},
{"b":14,"v":0.35,"lat":-13,"w":130,"e":120},{"b":14,"v":0.35,"lat":-15,"w":130,"e":115},{"b":14,"v":0.35,"lat":-16,"w":130,"e":112},{"b":14,"v":0.35,"lat":-18,"w":130,"e":107.5},{"b":14,"v":0.35,"lat":-21.5,"w":130,"e":106.5},{"b":14,"v":0.35,"lat":-25,"w":130,"e":106.6},{"b":14,"v":0.35,"lat":-26,"w":130,"e":103},{"b":14,"v":0.35,"lat":-30,"w":130,"e":103},{"b":14,"v":0.35,"lat":-32,"w":130,"e":108},{"b":14,"v":0.35,"lat":-32.5,"w":118,"e":110},
{"b":15,"v":0.35,"lat":-2.8,"w":90.3,"e":86},{"b":15,"v":0.35,"lat":-3.5,"w":95,"e":83.8},{"b":15,"v":0.35,"lat":-4.8,"w":100,"e":83.8},{"b":15,"v":0.35,"lat":-6.5,"w":103,"e":83.8},{"b":15,"v":0.35,"lat":-7.5,"w":103.5,"e":83.8},{"b":15,"v":0.35,"lat":-8.5,"w":101,"e":81.5},{"b":15,"v":0.35,"lat":-10,"w":100,"e":81.5},{"b":15,"v":0.35,"lat":-14,"w":96,"e":81.5},{"b":15,"v":0.35,"lat":-16.8,"w":94,"e":81.5},{"b":15,"v":0.35,"lat":-19,"w":94.5,"e":80.5},{"b":15,"v":0.35,"lat":-21.5,"w":101,"e":77.5},{"b":15,"v":0.35,"lat":-23.4,"w":101.2,"e":76.9},{"b":15,"v":0.35,"lat":-25.6,"w":101.4,"e":76.3},{"b":15,"v":0.35,"lat":-26,"w":110,"e":76.2},{"b":15,"v":0.35,"lat":-27.8,"w":110,"e":76},{"b":15,"v":0.35,"lat":-30.4,"w":110,"e":77},{"b":15,"v":0.35,"lat":-32.5,"w":106,"e":80.5},{"b":15,"v":0.35,"lat":-33.8,"w":105,"e":83},{"b":15,"v":0.35,"lat":-34.2,"w":100,"e":90},
{"b":16,"v":0.45,"lat":-13.8,"w":130,"e":121},{"b":16,"v":0.45,"lat":-15,"w":130,"e":120},{"b":16,"v":0.45,"lat":-16,"w":130,"e":113},{"b":16,"v":0.45,"lat":-17,"w":130,"e":112},{"b":16,"v":0.45,"lat":-18,"w":130,"e":108.5},{"b":16,"v":0.45,"lat":-21.5,"w":130,"e":107.5},{"b":16,"v":0.45,"lat":-25,"w":130,"e":107.6},{"b":16,"v":0.45,"lat":-26.5,"w":130,"e":105},{"b":16,"v":0.45,"lat":-30,"w":130,"e":105},{"b":16,"v":0.45,"lat":-31,"w":130,"e":110},{"b":16,"v":0.45,"lat":-31.5,"w":125,"e":112},{"b":16,"v":0.45,"lat":-31.8,"w":115,"e":113},
{"b":17,"v":0.45,"lat":-3.4,"w":90.3,"e":87},{"b":17,"v":0.45,"lat":-4,"w":94,"e":83.8},{"b":17,"v":0.45,"lat":-5.3,"w":99.1,"e":83.8},{"b":17,"v":0.45,"lat":-6.5,"w":101,"e":83.8},{"b":17,"v":0.45,"lat":-7.5,"w":102.2,"e":83.8},{"b":17,"v":0.45,"lat":-8.5,"w":100,"e":81.5},{"b":17,"v":0.45,"lat":-10,"w":98.9,"e":82.3},{"b":17,"v":0.45,"lat":-14,"w":94.7,"e":82.5},{"b":17,"v":0.45,"lat":-16.8,"w":92.9,"e":82.8},{"b":17,"v":0.45,"lat":-19,"w":93.4,"e":81.5},{"b":17,"v":0.45,"lat":-22,"w":100,"e":78.5},{"b":17,"v":0.45,"lat":-23.4,"w":100.2,"e":77.9},{"b":17,"v":0.45,"lat":-25.6,"w":100.4,"e":77.3},{"b":17,"v":0.45,"lat":-26.5,"w":110,"e":77.2},{"b":17,"v":0.45,"lat":-27.8,"w":110,"e":77},{"b":17,"v":0.45,"lat":-30.4,"w":110,"e":77.9},{"b":17,"v":0.45,"lat":-32.2,"w":105,"e":81.5},{"b":17,"v":0.45,"lat":-33.1,"w":104.5,"e":83.2},{"b":17,"v":0.45,"lat":-33.5,"w":100,"e":90},
{"b":18,"v":0.55,"lat":-18.3,"w":127,"e":126},{"b":18,"v":0.55,"lat":-19,"w":130,"e":125.6},{"b":18,"v":0.55,"lat":-21.6,"w":130,"e":122.5},{"b":18,"v":0.55,"lat":-24.7,"w":130,"e":122.2},{"b":18,"v":0.55,"lat":-27.4,"w":130,"e":124.3},{"b":18,"v":0.55,"lat":-30,"w":130,"e":124.6},{"b":18,"v":0.55,"lat":-30.6,"w":130,"e":126.5},
{"b":19,"v":0.55,"lat":-15,"w":119,"e":116.3},{"b":19,"v":0.55,"lat":-17,"w":120.7,"e":111},{"b":19,"v":0.55,"lat":-18.8,"w":119,"e":108.5},{"b":19,"v":0.55,"lat":-19.9,"w":115,"e":108.4},{"b":19,"v":0.55,"lat":-21.4,"w":115.9,"e":108.4},{"b":19,"v":0.55,"lat":-21.6,"w":118.5,"e":108.4},{"b":19,"v":0.55,"lat":-24.3,"w":120.3,"e":108.4},{"b":19,"v":0.55,"lat":-26.9,"w":120.5,"e":109.7},{"b":19,"v":0.55,"lat":-27.8,"w":120.7,"e":110.5},{"b":19,"v":0.55,"lat":-29.6,"w":120.4,"e":113.2},{"b":19,"v":0.55,"lat":-30.5,"w":120.3,"e":115.5},{"b":19,"v":0.55,"lat":-30.9,"w":118,"e":116.8},
{"b":20,"v":0.55,"lat":-4.4,"w":86.3,"e":85.5},{"b":20,"v":0.55,"lat":-4.9,"w":88.5,"e":85},{"b":20,"v":0.55,"lat":-6.2,"w":87.7,"e":83.8},{"b":20,"v":0.55,"lat":-9.7,"w":86.8,"e":83.2},{"b":20,"v":0.55,"lat":-10.5,"w":87,"e":83.2},
{"b":21,"v":0.55,"lat":-6.8,"w":98,"e":91},{"b":21,"v":0.55,"lat":-7.3,"w":98.8,"e":90.9},{"b":21,"v":0.55,"lat":-9.7,"w":99.1,"e":90.7},{"b":21,"v":0.55,"lat":-10.5,"w":98,"e":89},
{"b":22,"v":0.55,"lat":-10.3,"w":98,"e":83.2},{"b":22,"v":0.55,"lat":-13.7,"w":95.6,"e":83.2},{"b":22,"v":0.55,"lat":-16.8,"w":92.9,"e":83.2},{"b":22,"v":0.55,"lat":-17.2,"w":93,"e":83.2},{"b":22,"v":0.55,"lat":-19.4,"w":93.8,"e":81.5},{"b":22,"v":0.55,"lat":-21.2,"w":98.5,"e":80.1},{"b":22,"v":0.55,"lat":-22.1,"w":100,"e":79.9},{"b":22,"v":0.55,"lat":-24.7,"w":98.7,"e":79.3},{"b":22,"v":0.55,"lat":-28.2,"w":98.7,"e":78.9},{"b":22,"v":0.55,"lat":-29.1,"w":104.1,"e":79.5},{"b":22,"v":0.55,"lat":-30.9,"w":104.1,"e":81.5},{"b":22,"v":0.55,"lat":-32.4,"w":103.5,"e":83.7},{"b":22,"v":0.55,"lat":-33,"w":100,"e":90},
{"b":23,"v":0.65,"lat":-12.4,"w":92,"e":87.6},{"b":23,"v":0.65,"lat":-16.5,"w":91.5,"e":85.4},{"b":23,"v":0.65,"lat":-20,"w":92,"e":84.5},{"b":23,"v":0.65,"lat":-21.5,"w":94,"e":84.5},{"b":23,"v":0.65,"lat":-23.5,"w":96.5,"e":85},{"b":23,"v":0.65,"lat":-28,"w":97,"e":87},{"b":23,"v":0.65,"lat":-31,"w":93,"e":89.5},{"b":23,"v":0.65,"lat":-32,"w":91.5,"e":90},
{"b":24,"v":0.75,"lat":-14.3,"w":90,"e":87.6},{"b":24,"v":0.75,"lat":-17,"w":90,"e":86},{"b":24,"v":0.75,"lat":-20,"w":90,"e":85.8},{"b":24,"v":0.75,"lat":-21,"w":91,"e":85.9},{"b":24,"v":0.75,"lat":-23,"w":95,"e":86.5},{"b":24,"v":0.75,"lat":-28.6,"w":94.2,"e":88.5},{"b":24,"v":0.75,"lat":-29.6,"w":92.5,"e":89.8},
{"b":25,"v":0.65,"lat":-23,"w":91.6,"e":91.5},{"b":25,"v":0.65,"lat":-25.2,"w":93,"e":90.2},{"b":25,"v":0.65,"lat":-27.4,"w":91.8,"e":91.4},
{"b":26,"v":0.65,"lat":-24.3,"w":114.1,"e":112},{"b":26,"v":0.65,"lat":-26.5,"w":118.5,"e":111.5},{"b":26,"v":0.65,"lat":-28.5,"w":117.6,"e":113.7}
],
"SON":[
{"b":1,"v":-0.15,"lat":0,"w":130,"e":119.4},{"b":1,"v":-0.15,"lat":-4,"w":130,"e":117},{"b":1,"v":-0.15,"lat":-7,"w":130,"e":113},{"b":1,"v":-0.15,"lat":-9,"w":130,"e":108},{"b":1,"v":-0.15,"lat":-12,"w":130,"e":110.5},{"b":1,"v":-0.15,"lat":-13.2,"w":128,"e":113},{"b":1,"v":-0.15,"lat":-14,"w":121,"e":115},
{"b":2,"v":-0.25,"lat":0,"w":130,"e":120},{"b":2,"v":-0.25,"lat":-4,"w":130,"e":118.5},{"b":2,"v":-0.25,"lat":-7,"w":130,"e":115},{"b":2,"v":-0.25,"lat":-9,"w":130,"e":112},{"b":2,"v":-0.25,"lat":-11,"w":130,"e":113},{"b":2,"v":-0.25,"lat":-12,"w":128,"e":115},{"b":2,"v":-0.25,"lat":-13,"w":120,"e":117},
{"b":3,"v":-0.35,"lat":0,"w":130,"e":122},{"b":3,"v":-0.35,"lat":-3,"w":130,"e":120},{"b":3,"v":-0.35,"lat":-6,"w":130,"e":116},{"b":3,"v":-0.35,"lat":-9,"w":130,"e":113.5},{"b":3,"v":-0.35,"lat":-11,"w":130,"e":115},{"b":3,"v":-0.35,"lat":-12,"w":125,"e":118},
{"b":4,"v":-0.45,"lat":0,"w":130,"e":126},{"b":4,"v":-0.45,"lat":-2,"w":130,"e":124},{"b":4,"v":-0.45,"lat":-4,"w":130,"e":120},{"b":4,"v":-0.45,"lat":-7,"w":130,"e":117},{"b":4,"v":-0.45,"lat":-9.5,"w":130,"e":115.5},{"b":4,"v":-0.45,"lat":-11.5,"w":130,"e":117},{"b":4,"v":-0.45,"lat":-11.7,"w":127,"e":119},
{"b":5,"v":-0.55,"lat":-1.8,"w":130,"e":128.2},{"b":5,"v":-0.55,"lat":-3.5,"w":130,"e":126.5},{"b":5,"v":-0.55,"lat":-5.8,"w":130,"e":123.8},{"b":5,"v":-0.55,"lat":-8.4,"w":130,"e":119},{"b":5,"v":-0.55,"lat":-9.3,"w":128.5,"e":117.6},{"b":5,"v":-0.55,"lat":-9.7,"w":127.4,"e":116.9},{"b":5,"v":-0.55,"lat":-11.5,"w":122,"e":117.6},
{"b":6,"v":-0.15,"lat":0,"w":95.6,"e":83.8},{"b":6,"v":-0.15,"lat":-2,"w":94,"e":83.8},{"b":6,"v":-0.15,"lat":-3.5,"w":91,"e":83.8},{"b":6,"v":-0.15,"lat":-5,"w":89.4,"e":83.8},{"b":6,"v":-0.15,"lat":-8,"w":86.8,"e":83.8},{"b":6,"v":-0.15,"lat":-10,"w":84,"e":81.5},{"b":6,"v":-0.15,"lat":-12,"w":82.3,"e":80.5},{"b":6,"v":-0.15,"lat":-14,"w":81,"e":80},
{"b":7,"v":-0.25,"lat":0,"w":94,"e":83.8},{"b":7,"v":-0.25,"lat":-2,"w":91,"e":83.8},{"b":7,"v":-0.25,"lat":-4,"w":88.5,"e":83.8},{"b":7,"v":-0.25,"lat":-6,"w":86.8,"e":83.8},{"b":7,"v":-0.25,"lat":-8,"w":85,"e":83.8},
{"b":8,"v":-0.35,"lat":0,"w":92,"e":83.8},{"b":8,"v":-0.35,"lat":-2,"w":88.5,"e":83.8},{"b":8,"v":-0.35,"lat":-4,"w":85.9,"e":83.8},{"b":8,"v":-0.35,"lat":-6,"w":84.5,"e":83.8},
{"b":9,"v":-0.45,"lat":0,"w":86.3,"e":83.8},{"b":9,"v":-0.45,"lat":-1.5,"w":85.4,"e":83.8},{"b":9,"v":-0.45,"lat":-3,"w":84.5,"e":83.8},
{"b":10,"v":0.15,"lat":-1,"w":108,"e":103},{"b":10,"v":0.15,"lat":-3,"w":114,"e":98},{"b":10,"v":0.15,"lat":-5,"w":116,"e":94},{"b":10,"v":0.15,"lat":-7,"w":114,"e":88},{"b":10,"v":0.15,"lat":-9,"w":111,"e":84.5},{"b":10,"v":0.15,"lat":-10,"w":110,"e":83},{"b":10,"v":0.15,"lat":-12.8,"w":110,"e":81},{"b":10,"v":0.15,"lat":-13,"w":127,"e":81},{"b":10,"v":0.15,"lat":-14,"w":130,"e":80},{"b":10,"v":0.15,"lat":-17,"w":130,"e":75},{"b":10,"v":0.15,"lat":-17.7,"w":130,"e":73.8},{"b":10,"v":0.15,"lat":-33,"w":130,"e":73.8},{"b":10,"v":0.15,"lat":-35,"w":130,"e":75},{"b":10,"v":0.15,"lat":-37,"w":130,"e":76},{"b":10,"v":0.15,"lat":-40,"w":130,"e":76},
{"b":11,"v":0.25,"lat":-1.5,"w":108,"e":105},{"b":11,"v":0.25,"lat":-2,"w":112,"e":100},{"b":11,"v":0.25,"lat":-4,"w":114,"e":97.5},{"b":11,"v":0.25,"lat":-5.5,"w":114.5,"e":94},{"b":11,"v":0.25,"lat":-7,"w":112,"e":88},{"b":11,"v":0.25,"lat":-9,"w":110,"e":85},{"b":11,"v":0.25,"lat":-10,"w":108,"e":83},{"b":11,"v":0.25,"lat":-14,"w":105,"e":80.5},{"b":11,"v":0.25,"lat":-14.8,"w":105,"e":80.2},{"b":11,"v":0.25,"lat":-15,"w":130,"e":80},{"b":11,"v":0.25,"lat":-16,"w":130,"e":78},{"b":11,"v":0.25,"lat":-17.4,"w":130,"e":73.8},{"b":11,"v":0.25,"lat":-33,"w":130,"e":73.8},{"b":11,"v":0.25,"lat":-35,"w":130,"e":74.8},{"b":11,"v":0.25,"lat":-37,"w":130,"e":76.5},{"b":11,"v":0.25,"lat":-40,"w":130,"e":77},
{"b":12,"v":0.15,"lat":-22,"w":121,"e":116},{"b":12,"v":0.15,"lat":-24,"w":127,"e":112.3},{"b":12,"v":0.15,"lat":-28,"w":127,"e":112},{"b":12,"v":0.15,"lat":-31,"w":124.7,"e":112.3},{"b":12,"v":0.15,"lat":-32.5,"w":121,"e":117.6},
{"b":13,"v":0.05,"lat":-23.4,"w":122,"e":117.6},{"b":13,"v":0.05,"lat":-25,"w":124.7,"e":113.7},{"b":13,"v":0.05,"lat":-28,"w":124.3,"e":112.5},{"b":13,"v":0.05,"lat":-31,"w":121.6,"e":114},{"b":13,"v":0.05,"lat":-32.3,"w":120.7,"e":119},
{"b":14,"v":0.15,"lat":-36,"w":130,"e":126},{"b":14,"v":0.15,"lat":-40,"w":130,"e":125.5},
{"b":15,"v":0.05,"lat":-36.4,"w":130,"e":126.8},{"b":15,"v":0.05,"lat":-40,"w":130,"e":126.3},
{"b":16,"v":0.35,"lat":-13.2,"w":130,"e":127},{"b":16,"v":0.35,"lat":-15,"w":130,"e":118},{"b":16,"v":0.35,"lat":-16,"w":130,"e":112},{"b":16,"v":0.35,"lat":-16.5,"w":130,"e":110},{"b":16,"v":0.35,"lat":-18,"w":130,"e":110},{"b":16,"v":0.35,"lat":-20,"w":124,"e":110},{"b":16,"v":0.35,"lat":-21.5,"w":116,"e":110},{"b":16,"v":0.35,"lat":-21.8,"w":113,"e":110},
{"b":17,"v":0.45,"lat":-14,"w":130,"e":128},{"b":17,"v":0.45,"lat":-15.5,"w":130,"e":122},{"b":17,"v":0.45,"lat":-16.8,"w":130,"e":114},{"b":17,"v":0.45,"lat":-17.2,"w":130,"e":111},{"b":17,"v":0.45,"lat":-17.8,"w":128,"e":110},{"b":17,"v":0.45,"lat":-19.4,"w":125.6,"e":110},{"b":17,"v":0.45,"lat":-20.4,"w":118,"e":110},{"b":17,"v":0.45,"lat":-20.8,"w":116,"e":110},
{"b":18,"v":0.35,"lat":-3.3,"w":106.2,"e":104.5},{"b":18,"v":0.35,"lat":-4.5,"w":108.5,"e":102},{"b":18,"v":0.35,"lat":-5.5,"w":109.5,"e":92},{"b":18,"v":0.35,"lat":-7.5,"w":110,"e":87},{"b":18,"v":0.35,"lat":-10,"w":109,"e":84.2},{"b":18,"v":0.35,"lat":-15,"w":110,"e":81.5},{"b":18,"v":0.35,"lat":-17.2,"w":110,"e":76.5},{"b":18,"v":0.35,"lat":-17.8,"w":110,"e":73.8},{"b":18,"v":0.35,"lat":-24,"w":110,"e":73.8},{"b":18,"v":0.35,"lat":-29,"w":108,"e":73.8},{"b":18,"v":0.35,"lat":-29.8,"w":110,"e":73.8},{"b":18,"v":0.35,"lat":-30.8,"w":115.5,"e":73.8},{"b":18,"v":0.35,"lat":-32.5,"w":118.5,"e":73.8},{"b":18,"v":0.35,"lat":-35,"w":119.5,"e":75},{"b":18,"v":0.35,"lat":-38,"w":120.5,"e":76.5},{"b":18,"v":0.35,"lat":-40,"w":121.5,"e":77.2},
{"b":19,"v":0.45,"lat":-4,"w":106.2,"e":104.8},{"b":19,"v":0.45,"lat":-5,"w":108,"e":102.6},{"b":19,"v":0.45,"lat":-6,"w":108.8,"e":92},{"b":19,"v":0.45,"lat":-7.5,"w":109.3,"e":87.5},{"b":19,"v":0.45,"lat":-10,"w":108.5,"e":84.7},{"b":19,"v":0.45,"lat":-15,"w":110,"e":82},{"b":19,"v":0.45,"lat":-17.5,"w":110,"e":77},{"b":19,"v":0.45,"lat":-18,"w":110,"e":73.8},{"b":19,"v":0.45,"lat":-24,"w":109.3,"e":73.8},{"b":19,"v":0.45,"lat":-26,"w":108.4,"e":73.8},{"b":19,"v":0.45,"lat":-29,"w":107,"e":73.8},{"b":19,"v":0.45,"lat":-30,"w":108.8,"e":73.8},{"b":19,"v":0.45,"lat":-31,"w":114,"e":73.8},{"b":19,"v":0.45,"lat":-32.5,"w":117.2,"e":73.8},{"b":19,"v":0.45,"lat":-35,"w":118,"e":75.5},{"b":19,"v":0.45,"lat":-38,"w":119,"e":77},{"b":19,"v":0.45,"lat":-40,"w":120.5,"e":77.5},
{"b":20,"v":0.25,"lat":-10,"w":110,"e":108},{"b":20,"v":0.25,"lat":-10.5,"w":110,"e":105},{"b":20,"v":0.25,"lat":-10.7,"w":110,"e":100},{"b":20,"v":0.25,"lat":-12,"w":110,"e":95.5},{"b":20,"v":0.25,"lat":-13,"w":110,"e":94},{"b":20,"v":0.25,"lat":-15,"w":110,"e":94},{"b":20,"v":0.25,"lat":-16,"w":110,"e":94.5},{"b":20,"v":0.25,"lat":-16.3,"w":107,"e":95},{"b":20,"v":0.25,"lat":-16.5,"w":100,"e":96.5},
{"b":21,"v":0.15,"lat":-10.6,"w":110,"e":107},{"b":21,"v":0.15,"lat":-14,"w":110,"e":105.5},{"b":21,"v":0.15,"lat":-16,"w":110,"e":106.5},{"b":21,"v":0.15,"lat":-16.4,"w":109,"e":107.5},
{"b":22,"v":0.05,"lat":-11,"w":110,"e":107.5},{"b":22,"v":0.05,"lat":-14,"w":110,"e":106.5},{"b":22,"v":0.05,"lat":-15.6,"w":110,"e":107.5},{"b":22,"v":0.05,"lat":-16,"w":109,"e":108},
{"b":23,"v":0.25,"lat":-24,"w":110,"e":109.5},{"b":23,"v":0.25,"lat":-26,"w":110,"e":108.6},{"b":23,"v":0.25,"lat":-29,"w":110,"e":107.3},{"b":23,"v":0.25,"lat":-29.8,"w":110,"e":108.5},
{"b":24,"v":0.55,"lat":-6.2,"w":90,"e":89.4},{"b":24,"v":0.55,"lat":-6.8,"w":94.7,"e":88.4},{"b":24,"v":0.55,"lat":-7.3,"w":97.8,"e":87},{"b":24,"v":0.55,"lat":-7.5,"w":97,"e":86.8},{"b":24,"v":0.55,"lat":-9.7,"w":95.6,"e":84.6},{"b":24,"v":0.55,"lat":-10.2,"w":95,"e":84.1},{"b":24,"v":0.55,"lat":-11.9,"w":92,"e":83.6},{"b":24,"v":0.55,"lat":-14.1,"w":92,"e":82.8},{"b":24,"v":0.55,"lat":-14.6,"w":92,"e":82.3},{"b":24,"v":0.55,"lat":-15.9,"w":92.8,"e":81},{"b":24,"v":0.55,"lat":-17,"w":93,"e":80},{"b":24,"v":0.55,"lat":-17.7,"w":93.4,"e":78.5},
{"b":25,"v":0.55,"lat":-15.9,"w":101.3,"e":101},{"b":25,"v":0.55,"lat":-17,"w":105.7,"e":97.5},{"b":25,"v":0.55,"lat":-17.7,"w":105,"e":93},{"b":25,"v":0.55,"lat":-18.5,"w":105,"e":76.2},{"b":25,"v":0.55,"lat":-19.9,"w":104,"e":75.8},{"b":25,"v":0.55,"lat":-21.6,"w":106.2,"e":74},{"b":25,"v":0.55,"lat":-24.7,"w":107.2,"e":73.8},{"b":25,"v":0.55,"lat":-27.4,"w":104.8,"e":73.8},{"b":25,"v":0.55,"lat":-27.8,"w":104.8,"e":76.6},{"b":25,"v":0.55,"lat":-29.7,"w":104.8,"e":78},{"b":25,"v":0.55,"lat":-30,"w":108,"e":78.4},{"b":25,"v":0.55,"lat":-30.4,"w":109.7,"e":78.7},{"b":25,"v":0.55,"lat":-32.2,"w":115.4,"e":79},{"b":25,"v":0.55,"lat":-34,"w":115.4,"e":79.7},{"b":25,"v":0.55,"lat":-35.7,"w":115.4,"e":80.5},{"b":25,"v":0.55,"lat":-37.5,"w":114.8,"e":81.5},{"b":25,"v":0.55,"lat":-38,"w":113.7,"e":82},{"b":25,"v":0.55,"lat":-38.1,"w":107,"e":82.2},{"b":25,"v":0.55,"lat":-38.2,"w":88.8,"e":82.3},{"b":25,"v":0.55,"lat":-39.1,"w":88.5,"e":83.2},{"b":25,"v":0.55,"lat":-39.9,"w":88.1,"e":85.7},
{"b":26,"v":0.55,"lat":-4.9,"w":106.6,"e":106},{"b":26,"v":0.55,"lat":-7.5,"w":107.5,"e":100.4},{"b":26,"v":0.55,"lat":-9.1,"w":107,"e":101},{"b":26,"v":0.55,"lat":-9.3,"w":106.2,"e":102},
{"b":27,"v":0.55,"lat":-16.8,"w":122,"e":121.8},{"b":27,"v":0.55,"lat":-17.2,"w":124,"e":114.4},{"b":27,"v":0.55,"lat":-17.4,"w":125.4,"e":114.5},{"b":27,"v":0.55,"lat":-18.8,"w":123.4,"e":115.9},{"b":27,"v":0.55,"lat":-19.2,"w":118,"e":116.1},
{"b":28,"v":0.55,"lat":-14.4,"w":130,"e":129.8},{"b":28,"v":0.55,"lat":-15,"w":130,"e":128.5},{"b":28,"v":0.55,"lat":-16.2,"w":130,"e":129.9},
{"b":29,"v":0.65,"lat":-10.6,"w":86.8,"e":85},{"b":29,"v":0.65,"lat":-14,"w":88.5,"e":82.8},{"b":29,"v":0.65,"lat":-17.9,"w":90.7,"e":79.7},{"b":29,"v":0.65,"lat":-18.5,"w":100.9,"e":77.9},{"b":29,"v":0.65,"lat":-20,"w":103,"e":75.3},{"b":29,"v":0.65,"lat":-22,"w":104.8,"e":74.4},{"b":29,"v":0.65,"lat":-25,"w":106.6,"e":74.4},{"b":29,"v":0.65,"lat":-27,"w":103.5,"e":74.8},{"b":29,"v":0.65,"lat":-27.7,"w":102.6,"e":78},{"b":29,"v":0.65,"lat":-30,"w":101.7,"e":78.8},{"b":29,"v":0.65,"lat":-31,"w":106.2,"e":79.3},{"b":29,"v":0.65,"lat":-32,"w":107.5,"e":79.7},{"b":29,"v":0.65,"lat":-34,"w":106.2,"e":80.6},{"b":29,"v":0.65,"lat":-34.5,"w":100.9,"e":81},{"b":29,"v":0.65,"lat":-35,"w":93.8,"e":81.2},{"b":29,"v":0.65,"lat":-36,"w":91.6,"e":81.6},{"b":29,"v":0.65,"lat":-38,"w":89.8,"e":82.8},{"b":29,"v":0.65,"lat":-40,"w":87,"e":84.6},
{"b":30,"v":0.45,"lat":-34.7,"w":99.1,"e":99},{"b":30,"v":0.45,"lat":-36.2,"w":103,"e":92},{"b":30,"v":0.45,"lat":-37.5,"w":104.4,"e":89.5},{"b":30,"v":0.45,"lat":-38,"w":105,"e":88.9},{"b":30,"v":0.45,"lat":-40,"w":105,"e":88},
{"b":31,"v":0.25,"lat":-37,"w":101,"e":95},{"b":31,"v":0.25,"lat":-37.5,"w":103,"e":94},{"b":31,"v":0.25,"lat":-40,"w":103,"e":91},
{"b":32,"v":0.05,"lat":-39,"w":100,"e":96},{"b":32,"v":0.05,"lat":-40,"w":102,"e":95},
{"b":33,"v":0.75,"lat":-21.6,"w":99.6,"e":92.9},{"b":33,"v":0.75,"lat":-23,"w":100,"e":89},{"b":33,"v":0.75,"lat":-25,"w":100.7,"e":85.9},{"b":33,"v":0.75,"lat":-27,"w":99.6,"e":84.1},{"b":33,"v":0.75,"lat":-29.5,"w":96.6,"e":83.2},{"b":33,"v":0.75,"lat":-33,"w":95.6,"e":83.2},{"b":33,"v":0.75,"lat":-34.5,"w":89.4,"e":85},
{"b":34,"v":0.75,"lat":-31.4,"w":107,"e":103},{"b":34,"v":0.75,"lat":-32.5,"w":107.5,"e":100},{"b":34,"v":0.75,"lat":-33.7,"w":104,"e":102},
{"b":35,"v":0.75,"lat":-16.8,"w":86,"e":85.8},{"b":35,"v":0.75,"lat":-17.7,"w":87,"e":85},{"b":35,"v":0.75,"lat":-18.8,"w":86,"e":85.8},
{"b":36,"v":0.55,"lat":-21.6,"w":81.9,"e":81.5},{"b":36,"v":0.55,"lat":-23,"w":81.9,"e":79},{"b":36,"v":0.55,"lat":-24.5,"w":81.9,"e":81.5},
{"b":37,"v":0.75,"lat":-21.5,"w":76.7,"e":76.4},{"b":37,"v":0.75,"lat":-22.3,"w":77,"e":76},{"b":37,"v":0.75,"lat":-23.2,"w":76.7,"e":76.4},
{"b":38,"v":0.85,"lat":-23.2,"w":95.6,"e":93.8},{"b":38,"v":0.85,"lat":-24,"w":97.3,"e":92.5},{"b":38,"v":0.85,"lat":-25,"w":98.2,"e":92},{"b":38,"v":0.85,"lat":-28,"w":95.6,"e":90.7},{"b":38,"v":0.85,"lat":-30,"w":92.9,"e":90.5},{"b":38,"v":0.85,"lat":-31,"w":91.6,"e":91.2},
{"b":39,"v":0.65,"lat":-7.1,"w":91.5,"e":89},{"b":39,"v":0.65,"lat":-7.8,"w":92.5,"e":87.7},{"b":39,"v":0.65,"lat":-8.2,"w":91,"e":88}
],
"cDJF":[
{"p":1,"lon":84.1,"lat":-7.2},{"p":1,"lon":86.8,"lat":-5},{"p":1,"lon":89.4,"lat":-4.1},{"p":1,"lon":93.8,"lat":-4.1},{"p":1,"lon":98.2,"lat":-3.7},{"p":1,"lon":101.8,"lat":-2.4},{"p":1,"lon":106.2,"lat":-1.7},{"p":1,"lon":108.8,"lat":-1.9},{"p":1,"lon":114.1,"lat":-1.7},{"p":1,"lon":116.8,"lat":-2.4},{"p":1,"lon":119.4,"lat":-4.6},{"p":1,"lon":121.6,"lat":-7.7},{"p":1,"lon":118.1,"lat":-9.9},{"p":1,"lon":116.1,"lat":-12.5},{"p":1,"lon":119,"lat":-15.2},{"p":1,"lon":116.9,"lat":-17.8},{"p":1,"lon":112.3,"lat":-19.2},{"p":1,"lon":108.4,"lat":-20.9},{"p":1,"lon":105.7,"lat":-23.1},{"p":1,"lon":103,"lat":-26.7},{"p":1,"lon":97.8,"lat":-30.2},{"p":1,"lon":92,"lat":-32.4},{"p":1,"lon":90.7,"lat":-34.2},{"p":1,"lon":89.4,"lat":-37.7},{"p":1,"lon":86.8,"lat":-37.4},{"p":1,"lon":81.5,"lat":-37.7},{"p":1,"lon":78.8,"lat":-36.4},{"p":1,"lon":76.6,"lat":-33.7},{"p":1,"lon":74,"lat":-34.2},
{"p":2,"lon":122.9,"lat":-30.2},{"p":2,"lon":121.4,"lat":-28},{"p":2,"lon":118.5,"lat":-30.2},{"p":2,"lon":121.6,"lat":-30.8},{"p":2,"lon":122.9,"lat":-30.2},
{"p":3,"lon":124.7,"lat":-35},{"p":3,"lon":124,"lat":-33.5},{"p":3,"lon":123.4,"lat":-35.2},{"p":3,"lon":124.7,"lat":-35}
],
"cMAM":[
{"p":1,"lon":130,"lat":-5.9},{"p":1,"lon":125.6,"lat":-6.4},{"p":1,"lon":121.2,"lat":-6.4},{"p":1,"lon":114.1,"lat":-5},{"p":1,"lon":109.7,"lat":-5},{"p":1,"lon":105.3,"lat":-5.5},{"p":1,"lon":100,"lat":-6.6},{"p":1,"lon":95.6,"lat":-6.8},{"p":1,"lon":91.2,"lat":-6.8},{"p":1,"lon":87.6,"lat":-8.1},{"p":1,"lon":85,"lat":-10.1},{"p":1,"lon":83.7,"lat":-13},{"p":1,"lon":81.5,"lat":-14.6},{"p":1,"lon":78.8,"lat":-16.3},
{"p":2,"lon":74.8,"lat":-17.8},{"p":2,"lon":74.4,"lat":-20},{"p":2,"lon":73.8,"lat":-21.8},
{"p":3,"lon":130,"lat":-15.6},{"p":3,"lon":122.9,"lat":-16.2},{"p":3,"lon":118.5,"lat":-18.3},{"p":3,"lon":113.2,"lat":-19.6},{"p":3,"lon":109.7,"lat":-21.8},{"p":3,"lon":106.2,"lat":-24.9},{"p":3,"lon":100.9,"lat":-28},{"p":3,"lon":94.7,"lat":-29.3},{"p":3,"lon":91.2,"lat":-31.1},{"p":3,"lon":85.9,"lat":-31.5},{"p":3,"lon":81.5,"lat":-29.7},{"p":3,"lon":78.8,"lat":-30.6},{"p":3,"lon":77.9,"lat":-28.9},{"p":3,"lon":73.8,"lat":-25.6},
{"p":4,"lon":130,"lat":-35.9},{"p":4,"lon":127.4,"lat":-36.4},{"p":4,"lon":123.8,"lat":-38.4},{"p":4,"lon":120.3,"lat":-38.6},{"p":4,"lon":117.2,"lat":-40}
],
"cJJA":[
{"p":1,"lon":130,"lat":-19},{"p":1,"lon":126.5,"lat":-18.3},{"p":1,"lon":122.5,"lat":-21.6},{"p":1,"lon":122.2,"lat":-24.7},{"p":1,"lon":124.3,"lat":-27.4},{"p":1,"lon":124.6,"lat":-30},{"p":1,"lon":126.5,"lat":-30.6},{"p":1,"lon":130,"lat":-30.3},
{"p":2,"lon":118.5,"lat":-21.6},{"p":2,"lon":115.9,"lat":-21.4},{"p":2,"lon":115,"lat":-19.9},{"p":2,"lon":116.6,"lat":-18.8},{"p":2,"lon":119,"lat":-18.8},{"p":2,"lon":120.7,"lat":-17},{"p":2,"lon":119,"lat":-15},{"p":2,"lon":116.3,"lat":-15},{"p":2,"lon":113.7,"lat":-17.2},{"p":2,"lon":111,"lat":-17},{"p":2,"lon":108.4,"lat":-19},{"p":2,"lon":108.4,"lat":-23.4},{"p":2,"lon":109.7,"lat":-26.9},{"p":2,"lon":113.2,"lat":-29.6},{"p":2,"lon":116.8,"lat":-30.9},{"p":2,"lon":120.3,"lat":-30.5},{"p":2,"lon":120.7,"lat":-27.8},{"p":2,"lon":120.3,"lat":-24.3},{"p":2,"lon":118.5,"lat":-21.6},
{"p":3,"lon":99.1,"lat":-9.7},{"p":3,"lon":98.8,"lat":-7.3},{"p":3,"lon":94.7,"lat":-6.8},{"p":3,"lon":91,"lat":-6.8},{"p":3,"lon":90.7,"lat":-9.7},{"p":3,"lon":89.4,"lat":-10.3},{"p":3,"lon":86.8,"lat":-9.7},{"p":3,"lon":88.5,"lat":-4.9},{"p":3,"lon":86.3,"lat":-4.4},{"p":3,"lon":83.8,"lat":-6.2},{"p":3,"lon":83.2,"lat":-9.7},{"p":3,"lon":83.2,"lat":-17.2},{"p":3,"lon":80.1,"lat":-21.2},{"p":3,"lon":78.8,"lat":-27.8},{"p":3,"lon":81.5,"lat":-30.9},{"p":3,"lon":83.7,"lat":-32.4},{"p":3,"lon":92,"lat":-33.1},{"p":3,"lon":103.1,"lat":-32.9},{"p":3,"lon":104.1,"lat":-31.3},{"p":3,"lon":104.1,"lat":-29.1},{"p":3,"lon":98.7,"lat":-28.2},{"p":3,"lon":98.7,"lat":-24.7},{"p":3,"lon":100,"lat":-22.1},{"p":3,"lon":93.8,"lat":-19.4},{"p":3,"lon":92.9,"lat":-16.8},{"p":3,"lon":95.6,"lat":-13.7},{"p":3,"lon":97.8,"lat":-10.6},{"p":3,"lon":99.1,"lat":-9.7},
{"p":4,"lon":121.4,"lat":-15.1},{"p":4,"lon":119.6,"lat":-14.9},
{"p":5,"lon":109.7,"lat":0},{"p":5,"lon":108.8,"lat":-0.9},{"p":5,"lon":107.9,"lat":0}
],
"cSON":[
{"p":1,"lon":97.8,"lat":-7.3},{"p":1,"lon":94.7,"lat":-6.8},{"p":1,"lon":89.4,"lat":-6.2},{"p":1,"lon":86.8,"lat":-7.5},{"p":1,"lon":84.1,"lat":-10.2},{"p":1,"lon":82.8,"lat":-14.1},{"p":1,"lon":80.1,"lat":-16.8},{"p":1,"lon":76.2,"lat":-18.5},{"p":1,"lon":74,"lat":-21.6},
{"p":2,"lon":73.8,"lat":-27.6},{"p":2,"lon":76.6,"lat":-27.8},{"p":2,"lon":78.4,"lat":-30},{"p":2,"lon":79.7,"lat":-34},{"p":2,"lon":81.5,"lat":-37.5},{"p":2,"lon":83.2,"lat":-39.1},{"p":2,"lon":85.9,"lat":-39.9},
{"p":3,"lon":88.1,"lat":-39.9},{"p":3,"lon":92,"lat":-36.2},{"p":3,"lon":99.1,"lat":-34.7},{"p":3,"lon":104.4,"lat":-37.5},{"p":3,"lon":107.1,"lat":-38.1},{"p":3,"lon":111.5,"lat":-38.1},{"p":3,"lon":113.7,"lat":-38},{"p":3,"lon":115.4,"lat":-35.7},{"p":3,"lon":115.4,"lat":-32.2},{"p":3,"lon":109.7,"lat":-30.4},{"p":3,"lon":104.8,"lat":-29.7},{"p":3,"lon":104.8,"lat":-27.4},{"p":3,"lon":107.2,"lat":-24.7},{"p":3,"lon":106.2,"lat":-21.6},{"p":3,"lon":104,"lat":-19.9},{"p":3,"lon":105.7,"lat":-17},{"p":3,"lon":101.3,"lat":-15.9},{"p":3,"lon":95.6,"lat":-17.7},{"p":3,"lon":93.4,"lat":-17.7},{"p":3,"lon":92,"lat":-14.6},{"p":3,"lon":92,"lat":-11.9},{"p":3,"lon":95.6,"lat":-9.7},{"p":3,"lon":97.8,"lat":-7.3},
{"p":4,"lon":107.5,"lat":-7.5},{"p":4,"lon":106.6,"lat":-4.9},{"p":4,"lon":100.4,"lat":-7.5},{"p":4,"lon":101,"lat":-9.1},{"p":4,"lon":106.2,"lat":-9.3},{"p":4,"lon":107.5,"lat":-7.5},
{"p":5,"lon":125.4,"lat":-17.4},{"p":5,"lon":122,"lat":-16.8},{"p":5,"lon":114.4,"lat":-17.2},{"p":5,"lon":116.1,"lat":-19.2},{"p":5,"lon":123.4,"lat":-18.8},{"p":5,"lon":125.4,"lat":-17.4},
{"p":6,"lon":130,"lat":-14.4},{"p":6,"lon":128.5,"lat":-15},{"p":6,"lon":130,"lat":-16.2}
],
"nSON":[
{"p":1,"lon":130,"lat":-1.8},{"p":1,"lon":128.2,"lat":-2.2},{"p":1,"lon":127.2,"lat":-3.8},{"p":1,"lon":124.7,"lat":-5.7},{"p":1,"lon":118.5,"lat":-9.3},{"p":1,"lon":117.8,"lat":-9.7},{"p":1,"lon":118.5,"lat":-11.5},{"p":1,"lon":122,"lat":-11.5},{"p":1,"lon":127.4,"lat":-9.7},{"p":1,"lon":130,"lat":-8.4}
],
"coast":[
{"p":1,"lon":80.4,"lat":0},{"p":1,"lon":81,"lat":-1.1},{"p":1,"lon":80.8,"lat":-2.4},{"p":1,"lon":79.9,"lat":-2.8},{"p":1,"lon":81.5,"lat":-4.6},{"p":1,"lon":80.8,"lat":-5.9},{"p":1,"lon":79.7,"lat":-8.1},{"p":1,"lon":78.4,"lat":-10.8},{"p":1,"lon":77,"lat":-14.3},{"p":1,"lon":74.4,"lat":-16.5},{"p":1,"lon":70.4,"lat":-18.3},{"p":1,"lon":70.4,"lat":-21},{"p":1,"lon":71.3,"lat":-26.2},{"p":1,"lon":71.7,"lat":-32},{"p":1,"lon":73,"lat":-35.9},{"p":1,"lon":74,"lat":-37.7},{"p":1,"lon":73.5,"lat":-40},
{"p":2,"lon":62.5,"lat":-40},{"p":2,"lon":62.5,"lat":-39},{"p":2,"lon":60,"lat":-38.8}
],
"island":[{"lon":91.3,"lat":-0.9}],
"box":[{"w":110,"e":70,"n":-10,"s":-30}],
"bar":[{"lo":-1,"hi":-0.9,"v":-0.95},{"lo":-0.9,"hi":-0.8,"v":-0.85},{"lo":-0.8,"hi":-0.7,"v":-0.75},{"lo":-0.7,"hi":-0.6,"v":-0.65},{"lo":-0.6,"hi":-0.5,"v":-0.55},{"lo":-0.5,"hi":-0.4,"v":-0.45},{"lo":-0.4,"hi":-0.3,"v":-0.35},{"lo":-0.3,"hi":-0.2,"v":-0.25},{"lo":-0.2,"hi":-0.1,"v":-0.15},{"lo":-0.1,"hi":0,"v":-0.05},{"lo":0,"hi":0.1,"v":0.05},{"lo":0.1,"hi":0.2,"v":0.15},{"lo":0.2,"hi":0.3,"v":0.25},{"lo":0.3,"hi":0.4,"v":0.35},{"lo":0.4,"hi":0.5,"v":0.45},{"lo":0.5,"hi":0.6,"v":0.55},{"lo":0.6,"hi":0.7,"v":0.65},{"lo":0.7,"hi":0.8,"v":0.75},{"lo":0.8,"hi":0.9,"v":0.85},{"lo":0.9,"hi":1,"v":0.95}],
"barbox":[{"lo":-1,"hi":1}]
},
"vconcat":[
{"bounds":"flush","columns":2,"spacing":{"row":45,"column":32},"concat":[
{"width":264,"height":151,"title":{"text":"(a) DJF","offset":-3},"layer":[
{"data":{"name":"DJF"},"mark":{"type":"area","orient":"horizontal","clip":true},"encoding":{"y":{"field":"lat","type":"quantitative","scale":{"domain":[-40,0],"nice":false,"zero":false},"axis":{"values":[0,-2.5,-5,-7.5,-10,-12.5,-15,-17.5,-20,-22.5,-25,-27.5,-30,-32.5,-35,-37.5,-40],"grid":true,"zindex":1,"labelPadding":6,"labelExpr":"datum.value==0?'EQ':datum.value==-40?'−40S':datum.value%10==0?'−'+abs(datum.value):''","gridOpacity":{"condition":{"test":"datum.value%10==0&&datum.value<0&&datum.value>-40","value":1},"value":0}}},"x":{"field":"w","type":"quantitative","stack":null,"scale":{"domain":[130,60],"nice":false,"zero":false},"axis":{"values":[130,127.5,125,122.5,120,117.5,115,112.5,110,107.5,105,102.5,100,97.5,95,92.5,90,87.5,85,82.5,80,77.5,75,72.5,70,67.5,65,62.5,60],"grid":true,"zindex":1,"labels":false,"gridOpacity":{"condition":{"test":"datum.value%10==0&&datum.value<130&&datum.value>60","value":1},"value":0}}},"x2":{"field":"e"},"color":{"field":"v","type":"quantitative","scale":{"type":"threshold","domain":[-0.9,-0.8,-0.7,-0.6,-0.5,-0.4,-0.3,-0.2,-0.1,0,0.1,0.2,0.3,0.4,0.5,0.6,0.7,0.8,0.9],"range":["#0a3a85","#0d47a1","#1e6fcc","#3a9bee","#50b0f5","#80caff","#a0e8ff","#c0f4ff","#e0ffff","#ffffff","#ffffff","#fff5cc","#ffe070","#ffc040","#ffa000","#ff6000","#ff3200","#e11400","#c00000","#a50000"]},"legend":null},"detail":{"field":"b"}}},
{"data":{"name":"cDJF"},"transform":[{"window":[{"op":"row_number","as":"i"}]}],"mark":{"type":"line","color":"black","strokeWidth":1.1,"clip":true},"encoding":{"x":{"field":"lon","type":"quantitative","axis":null},"y":{"field":"lat","type":"quantitative","axis":null},"detail":{"field":"p"},"order":{"field":"i"}}},
{"data":{"name":"coast"},"transform":[{"window":[{"op":"row_number","as":"i"}]}],"mark":{"type":"line","color":"black","strokeWidth":1.3,"clip":true},"encoding":{"x":{"field":"lon","type":"quantitative","axis":null},"y":{"field":"lat","type":"quantitative","axis":null},"detail":{"field":"p"},"order":{"field":"i"}}},
{"data":{"name":"island"},"mark":{"type":"point","filled":true,"color":"black","size":14,"opacity":1},"encoding":{"x":{"field":"lon","type":"quantitative","axis":null},"y":{"field":"lat","type":"quantitative","axis":null}}},
{"data":{"name":"box"},"mark":{"type":"rect","filled":false,"stroke":"black","strokeWidth":1.1},"encoding":{"x":{"field":"w","type":"quantitative","axis":{"orient":"top","values":[130,127.5,125,122.5,120,117.5,115,112.5,110,107.5,105,102.5,100,97.5,95,92.5,90,87.5,85,82.5,80,77.5,75,72.5,70,67.5,65,62.5,60],"labels":false}},"x2":{"field":"e"},"y":{"field":"n","type":"quantitative","axis":{"orient":"right","values":[0,-2.5,-5,-7.5,-10,-12.5,-15,-17.5,-20,-22.5,-25,-27.5,-30,-32.5,-35,-37.5,-40],"labels":false}},"y2":{"field":"s"}}}
],"resolve":{"axis":{"x":"independent","y":"independent"}}},
{"width":264,"height":151,"title":{"text":"(b) MAM","offset":5.5},"layer":[
{"data":{"name":"MAM"},"mark":{"type":"area","orient":"horizontal","clip":true},"encoding":{"y":{"field":"lat","type":"quantitative","scale":{"domain":[-40,0],"nice":false,"zero":false},"axis":{"values":[0,-2.5,-5,-7.5,-10,-12.5,-15,-17.5,-20,-22.5,-25,-27.5,-30,-32.5,-35,-37.5,-40],"grid":true,"zindex":1,"labels":false,"gridOpacity":{"condition":{"test":"datum.value%10==0&&datum.value<0&&datum.value>-40","value":1},"value":0}}},"x":{"field":"w","type":"quantitative","stack":null,"scale":{"domain":[130,60],"nice":false,"zero":false},"axis":{"values":[130,127.5,125,122.5,120,117.5,115,112.5,110,107.5,105,102.5,100,97.5,95,92.5,90,87.5,85,82.5,80,77.5,75,72.5,70,67.5,65,62.5,60],"grid":true,"zindex":1,"labels":false,"gridOpacity":{"condition":{"test":"datum.value%10==0&&datum.value<130&&datum.value>60","value":1},"value":0}}},"x2":{"field":"e"},"color":{"field":"v","type":"quantitative","scale":{"type":"threshold","domain":[-0.9,-0.8,-0.7,-0.6,-0.5,-0.4,-0.3,-0.2,-0.1,0,0.1,0.2,0.3,0.4,0.5,0.6,0.7,0.8,0.9],"range":["#0a3a85","#0d47a1","#1e6fcc","#3a9bee","#50b0f5","#80caff","#a0e8ff","#c0f4ff","#e0ffff","#ffffff","#ffffff","#fff5cc","#ffe070","#ffc040","#ffa000","#ff6000","#ff3200","#e11400","#c00000","#a50000"]},"legend":null},"detail":{"field":"b"}}},
{"data":{"name":"cMAM"},"transform":[{"window":[{"op":"row_number","as":"i"}]}],"mark":{"type":"line","color":"black","strokeWidth":1.1,"clip":true},"encoding":{"x":{"field":"lon","type":"quantitative","axis":null},"y":{"field":"lat","type":"quantitative","axis":null},"detail":{"field":"p"},"order":{"field":"i"}}},
{"data":{"name":"coast"},"transform":[{"window":[{"op":"row_number","as":"i"}]}],"mark":{"type":"line","color":"black","strokeWidth":1.3,"clip":true},"encoding":{"x":{"field":"lon","type":"quantitative","axis":null},"y":{"field":"lat","type":"quantitative","axis":null},"detail":{"field":"p"},"order":{"field":"i"}}},
{"data":{"name":"island"},"mark":{"type":"point","filled":true,"color":"black","size":14,"opacity":1},"encoding":{"x":{"field":"lon","type":"quantitative","axis":null},"y":{"field":"lat","type":"quantitative","axis":null}}},
{"data":{"name":"box"},"mark":{"type":"rect","filled":false,"stroke":"black","strokeWidth":1.1},"encoding":{"x":{"field":"w","type":"quantitative","axis":{"orient":"top","values":[130,127.5,125,122.5,120,117.5,115,112.5,110,107.5,105,102.5,100,97.5,95,92.5,90,87.5,85,82.5,80,77.5,75,72.5,70,67.5,65,62.5,60],"labels":false}},"x2":{"field":"e"},"y":{"field":"n","type":"quantitative","axis":{"orient":"right","values":[0,-2.5,-5,-7.5,-10,-12.5,-15,-17.5,-20,-22.5,-25,-27.5,-30,-32.5,-35,-37.5,-40],"labels":false}},"y2":{"field":"s"}}}
],"resolve":{"axis":{"x":"independent","y":"independent"}}},
{"width":264,"height":151,"title":{"text":"(c) JJA","offset":-3},"layer":[
{"data":{"name":"JJA"},"mark":{"type":"area","orient":"horizontal","clip":true},"encoding":{"y":{"field":"lat","type":"quantitative","scale":{"domain":[-40,0],"nice":false,"zero":false},"axis":{"values":[0,-2.5,-5,-7.5,-10,-12.5,-15,-17.5,-20,-22.5,-25,-27.5,-30,-32.5,-35,-37.5,-40],"grid":true,"zindex":1,"labelPadding":6,"labelExpr":"datum.value==0?'EQ':datum.value==-40?'−40S':datum.value%10==0?'−'+abs(datum.value):''","gridOpacity":{"condition":{"test":"datum.value%10==0&&datum.value<0&&datum.value>-40","value":1},"value":0}}},"x":{"field":"w","type":"quantitative","stack":null,"scale":{"domain":[130,60],"nice":false,"zero":false},"axis":{"values":[130,127.5,125,122.5,120,117.5,115,112.5,110,107.5,105,102.5,100,97.5,95,92.5,90,87.5,85,82.5,80,77.5,75,72.5,70,67.5,65,62.5,60],"grid":true,"zindex":1,"labelPadding":10,"labelExpr":"datum.value%10==0?datum.value:''","gridOpacity":{"condition":{"test":"datum.value%10==0&&datum.value<130&&datum.value>60","value":1},"value":0}}},"x2":{"field":"e"},"color":{"field":"v","type":"quantitative","scale":{"type":"threshold","domain":[-0.9,-0.8,-0.7,-0.6,-0.5,-0.4,-0.3,-0.2,-0.1,0,0.1,0.2,0.3,0.4,0.5,0.6,0.7,0.8,0.9],"range":["#0a3a85","#0d47a1","#1e6fcc","#3a9bee","#50b0f5","#80caff","#a0e8ff","#c0f4ff","#e0ffff","#ffffff","#ffffff","#fff5cc","#ffe070","#ffc040","#ffa000","#ff6000","#ff3200","#e11400","#c00000","#a50000"]},"legend":null},"detail":{"field":"b"}}},
{"data":{"name":"cJJA"},"transform":[{"window":[{"op":"row_number","as":"i"}]}],"mark":{"type":"line","color":"black","strokeWidth":1.1,"clip":true},"encoding":{"x":{"field":"lon","type":"quantitative","axis":null},"y":{"field":"lat","type":"quantitative","axis":null},"detail":{"field":"p"},"order":{"field":"i"}}},
{"data":{"name":"coast"},"transform":[{"window":[{"op":"row_number","as":"i"}]}],"mark":{"type":"line","color":"black","strokeWidth":1.3,"clip":true},"encoding":{"x":{"field":"lon","type":"quantitative","axis":null},"y":{"field":"lat","type":"quantitative","axis":null},"detail":{"field":"p"},"order":{"field":"i"}}},
{"data":{"name":"island"},"mark":{"type":"point","filled":true,"color":"black","size":14,"opacity":1},"encoding":{"x":{"field":"lon","type":"quantitative","axis":null},"y":{"field":"lat","type":"quantitative","axis":null}}},
{"data":{"name":"box"},"mark":{"type":"rect","filled":false,"stroke":"black","strokeWidth":1.1},"encoding":{"x":{"field":"w","type":"quantitative","axis":{"orient":"top","values":[130,127.5,125,122.5,120,117.5,115,112.5,110,107.5,105,102.5,100,97.5,95,92.5,90,87.5,85,82.5,80,77.5,75,72.5,70,67.5,65,62.5,60],"labels":false}},"x2":{"field":"e"},"y":{"field":"n","type":"quantitative","axis":{"orient":"right","values":[0,-2.5,-5,-7.5,-10,-12.5,-15,-17.5,-20,-22.5,-25,-27.5,-30,-32.5,-35,-37.5,-40],"labels":false}},"y2":{"field":"s"}}}
],"resolve":{"axis":{"x":"independent","y":"independent"}}},
{"width":264,"height":151,"title":{"text":"(d) SON","offset":5.5},"layer":[
{"data":{"name":"SON"},"mark":{"type":"area","orient":"horizontal","clip":true},"encoding":{"y":{"field":"lat","type":"quantitative","scale":{"domain":[-40,0],"nice":false,"zero":false},"axis":{"values":[0,-2.5,-5,-7.5,-10,-12.5,-15,-17.5,-20,-22.5,-25,-27.5,-30,-32.5,-35,-37.5,-40],"grid":true,"zindex":1,"labels":false,"gridOpacity":{"condition":{"test":"datum.value%10==0&&datum.value<0&&datum.value>-40","value":1},"value":0}}},"x":{"field":"w","type":"quantitative","stack":null,"scale":{"domain":[130,60],"nice":false,"zero":false},"axis":{"values":[130,127.5,125,122.5,120,117.5,115,112.5,110,107.5,105,102.5,100,97.5,95,92.5,90,87.5,85,82.5,80,77.5,75,72.5,70,67.5,65,62.5,60],"grid":true,"zindex":1,"labelPadding":10,"labelExpr":"datum.value%10==0?datum.value:''","gridOpacity":{"condition":{"test":"datum.value%10==0&&datum.value<130&&datum.value>60","value":1},"value":0}}},"x2":{"field":"e"},"color":{"field":"v","type":"quantitative","scale":{"type":"threshold","domain":[-0.9,-0.8,-0.7,-0.6,-0.5,-0.4,-0.3,-0.2,-0.1,0,0.1,0.2,0.3,0.4,0.5,0.6,0.7,0.8,0.9],"range":["#0a3a85","#0d47a1","#1e6fcc","#3a9bee","#50b0f5","#80caff","#a0e8ff","#c0f4ff","#e0ffff","#ffffff","#ffffff","#fff5cc","#ffe070","#ffc040","#ffa000","#ff6000","#ff3200","#e11400","#c00000","#a50000"]},"legend":null},"detail":{"field":"b"}}},
{"data":{"name":"cSON"},"transform":[{"window":[{"op":"row_number","as":"i"}]}],"mark":{"type":"line","color":"black","strokeWidth":1.1,"clip":true},"encoding":{"x":{"field":"lon","type":"quantitative","axis":null},"y":{"field":"lat","type":"quantitative","axis":null},"detail":{"field":"p"},"order":{"field":"i"}}},
{"data":{"name":"nSON"},"transform":[{"window":[{"op":"row_number","as":"i"}]}],"mark":{"type":"line","color":"black","strokeWidth":1.1,"strokeDash":[7,4],"clip":true},"encoding":{"x":{"field":"lon","type":"quantitative","axis":null},"y":{"field":"lat","type":"quantitative","axis":null},"detail":{"field":"p"},"order":{"field":"i"}}},
{"data":{"name":"coast"},"transform":[{"window":[{"op":"row_number","as":"i"}]}],"mark":{"type":"line","color":"black","strokeWidth":1.3,"clip":true},"encoding":{"x":{"field":"lon","type":"quantitative","axis":null},"y":{"field":"lat","type":"quantitative","axis":null},"detail":{"field":"p"},"order":{"field":"i"}}},
{"data":{"name":"island"},"mark":{"type":"point","filled":true,"color":"black","size":14,"opacity":1},"encoding":{"x":{"field":"lon","type":"quantitative","axis":null},"y":{"field":"lat","type":"quantitative","axis":null}}},
{"data":{"name":"box"},"mark":{"type":"rect","filled":false,"stroke":"black","strokeWidth":1.1},"encoding":{"x":{"field":"w","type":"quantitative","axis":{"orient":"top","values":[130,127.5,125,122.5,120,117.5,115,112.5,110,107.5,105,102.5,100,97.5,95,92.5,90,87.5,85,82.5,80,77.5,75,72.5,70,67.5,65,62.5,60],"labels":false}},"x2":{"field":"e"},"y":{"field":"n","type":"quantitative","axis":{"orient":"right","values":[0,-2.5,-5,-7.5,-10,-12.5,-15,-17.5,-20,-22.5,-25,-27.5,-30,-32.5,-35,-37.5,-40],"labels":false}},"y2":{"field":"s"}}}
],"resolve":{"axis":{"x":"independent","y":"independent"}}}
]},
{"width":561,"height":11,"view":{"stroke":null},"layer":[
{"data":{"name":"bar"},"mark":{"type":"rect"},"encoding":{"x":{"field":"lo","type":"quantitative","scale":{"domain":[-1.806,1.985],"nice":false,"zero":false},"axis":{"values":[-1,-0.5,0,0.5,1],"tickSize":-3,"labelPadding":8,"labelExpr":"replace(''+datum.value,'-','−')"}},"x2":{"field":"hi"},"color":{"field":"v","type":"quantitative","scale":{"type":"threshold","domain":[-0.9,-0.8,-0.7,-0.6,-0.5,-0.4,-0.3,-0.2,-0.1,0,0.1,0.2,0.3,0.4,0.5,0.6,0.7,0.8,0.9],"range":["#0a3a85","#0d47a1","#1e6fcc","#3a9bee","#50b0f5","#80caff","#a0e8ff","#c0f4ff","#e0ffff","#ffffff","#ffffff","#fff5cc","#ffe070","#ffc040","#ffa000","#ff6000","#ff3200","#e11400","#c00000","#a50000"]},"legend":null}}},
{"data":{"name":"barbox"},"mark":{"type":"rect","filled":false,"stroke":"black","strokeWidth":1.2},"encoding":{"x":{"field":"lo","type":"quantitative"},"x2":{"field":"hi"}}}
]}
],"spacing":9.5}
